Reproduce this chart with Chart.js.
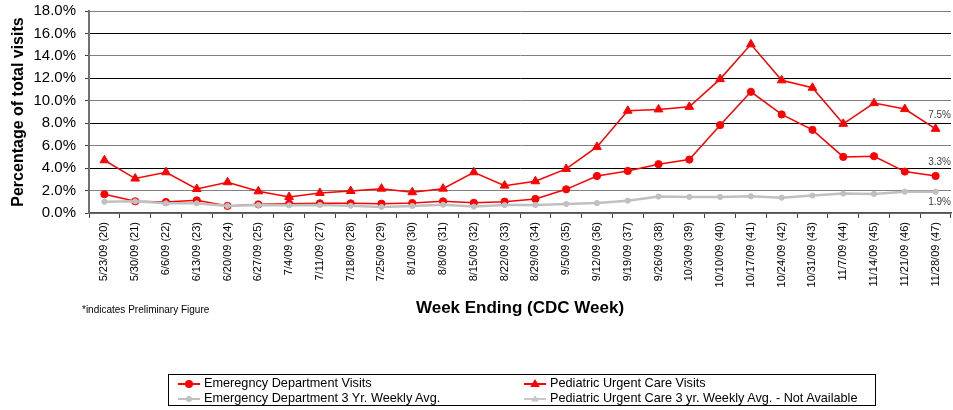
<!DOCTYPE html>
<html>
<head>
<meta charset="utf-8">
<script src="https://cdn.jsdelivr.net/npm/chart.js@4/dist/chart.umd.min.js"></script>
<style>
  html, body { margin: 0; padding: 0; background: #fff; }
  #wrap { position: relative; width: 953px; height: 410px; overflow: hidden; font-family: "Liberation Sans", Arial, sans-serif; }
  #cv { position: absolute; left: 0; top: 0; }
  #note { position: absolute; left: 82px; top: 304px; font-size: 10px; color: #000; white-space: nowrap; }
  #legend { position: absolute; left: 168px; top: 374px; width: 708px; height: 32px; border: 1px solid #000; box-sizing: border-box; font-size: 12.7px; color: #000; }
  .li { position: absolute; height: 15px; line-height: 15px; white-space: nowrap; }
  .li svg { position: absolute; left: 0; top: 2px; }
  .li span { position: absolute; left: 26px; top: 0; }
</style>
</head>
<body>
<div id="wrap">
  <canvas id="cv" width="957" height="330"></canvas>
  <div id="note">*indicates Preliminary Figure</div>
  <div id="legend"></div>
</div>
<script>
// ---- data ----
const weekLabels = ['5/23/09 (20)','5/30/09 (21)','6/6/09 (22)','6/13/09 (23)','6/20/09 (24)','6/27/09 (25)','7/4/09 (26)','7/11/09 (27)','7/18/09 (28)','7/25/09 (29)','8/1/09 (30)','8/8/09 (31)','8/15/09 (32)','8/22/09 (33)','8/29/09 (34)','9/5/09 (35)','9/12/09 (36)','9/19/09 (37)','9/26/09 (38)','10/3/09 (39)','10/10/09 (40)','10/17/09 (41)','10/24/09 (42)','10/31/09 (43)','11/7/09 (44)','11/14/09 (45)','11/21/09 (46)','11/28/09 (47)'];
const edVisits = [1.67,1.04,0.98,1.13,0.63,0.77,0.83,0.86,0.86,0.83,0.89,1.04,0.91,1.01,1.25,2.11,3.30,3.75,4.35,4.76,7.83,10.80,8.78,7.41,5.00,5.06,3.69,3.3];
const pedVisits = [4.70,3.07,3.63,2.14,2.74,1.93,1.43,1.79,1.96,2.17,1.85,2.17,3.63,2.44,2.83,3.93,5.89,9.11,9.23,9.46,11.93,15.03,11.82,11.16,7.95,9.79,9.26,7.5];
const edAvg = [1.01,1.04,0.86,0.86,0.63,0.71,0.68,0.71,0.65,0.54,0.63,0.74,0.57,0.71,0.71,0.80,0.89,1.10,1.46,1.43,1.43,1.49,1.37,1.55,1.73,1.70,1.90,1.9];
const pedAvg = [null,null,null,null,null,null,null,null,null,null,null,null,null,null,null,null,null,null,null,null,null,null,null,null,null,null,null,null];
const seriesNames = ['Emeregncy Department Visits','Pediatric Urgent Care Visits','Emergency Department 3 Yr. Weekly Avg.','Pediatric Urgent Care 3 yr. Weekly Avg. - Not Available'];
const yTicks = [0,2,4,6,8,10,12,14,16,18];

const RED = '#FF0000', GRAY = '#C0C0C0', LGRAY = '#C8C8C8';
const FONT = '"Liberation Sans", Arial, sans-serif';

const lastLabels = {
  id: 'lastLabels',
  afterDatasetsDraw(chart) {
    const ctx = chart.ctx;
    ctx.save();
    ctx.font = '10px ' + FONT;
    ctx.fillStyle = '#404040';
    ctx.textAlign = 'right';
    ctx.textBaseline = 'middle';
    const spec = [[1, -14], [0, -14], [2, 11]];
    spec.forEach(([di, dy]) => {
      const meta = chart.getDatasetMeta(di);
      const data = chart.data.datasets[di].data;
      const i = data.length - 1;
      const pt = meta.data[i];
      if (!pt || data[i] == null) return;
      ctx.fillText(data[i].toFixed(1) + '%', 951, pt.y + dy);
    });
    ctx.restore();
  }
};

new Chart(document.getElementById('cv'), {
  type: 'line',
  data: {
    labels: weekLabels,
    datasets: [
      { label: seriesNames[0], data: edVisits, borderColor: RED, backgroundColor: RED, borderWidth: 1.5,
        pointStyle: 'circle', pointRadius: 3.6, pointBorderWidth: 1, pointBackgroundColor: RED, pointBorderColor: RED, order: 1 },
      { label: seriesNames[1], data: pedVisits, borderColor: RED, backgroundColor: RED, borderWidth: 1.5,
        pointStyle: 'triangle', pointRadius: 5, pointBorderWidth: 1, pointBackgroundColor: RED, pointBorderColor: RED, order: 2 },
      { label: seriesNames[2], data: edAvg, borderColor: GRAY, backgroundColor: GRAY, borderWidth: 2.5,
        pointStyle: 'circle', pointRadius: 2.6, pointBorderWidth: 1, pointBackgroundColor: GRAY, pointBorderColor: GRAY, order: 0 },
      { label: seriesNames[3], data: pedAvg, borderColor: LGRAY, backgroundColor: LGRAY, borderWidth: 2,
        pointStyle: 'triangle', pointRadius: 3, order: 0 }
    ]
  },
  options: {
    responsive: false,
    animation: false,
    layout: { padding: { top: 11, left: 0, right: 0, bottom: 0 } },
    plugins: { legend: { display: false }, tooltip: { enabled: false } },
    elements: { line: { tension: 0 } },
    scales: {
      x: {
        offset: true,
        grid: { display: true, drawOnChartArea: false, drawTicks: true, tickLength: 5, offset: true, tickColor: '#404040' },
        border: { display: true, color: '#505050', width: 1.5 },
        ticks: { autoSkip: false, minRotation: 90, maxRotation: 90, padding: 4, color: '#000', font: { family: FONT, size: 11 } },
        title: { display: true, text: 'Week Ending (CDC Week)', color: '#000', font: { family: FONT, size: 17, weight: 'bold' }, padding: { top: 0, bottom: 11 } },
        afterFit(s) { s.height = 117; s.paddingLeft = 0; s.paddingRight = 0; }
      },
      y: {
        min: 0, max: 18,
        afterBuildTicks(s) { s.ticks = yTicks.map(v => ({ value: v })); },
        grid: {
          drawTicks: true, tickLength: 4, tickColor: '#404040', lineWidth: 1,
          color: c => (c.tick && c.tick.value % 4 === 0 && c.tick.value !== 0) ? '#000000' : '#808080'
        },
        border: { display: true, color: '#707070', width: 2 },
        ticks: { padding: 9, color: '#000', font: { family: FONT, size: 15 }, callback: v => Number(v).toFixed(1) + '%' },
        title: { display: true, text: 'Percentage of total visits', color: '#000', font: { family: FONT, size: 16, weight: 'bold' }, padding: { top: 9, bottom: 0 } },
        afterFit(s) { s.width = 89; s.paddingTop = 0; s.paddingBottom = 0; }
      }
    }
  },
  plugins: [lastLabels]
});

// ---- HTML legend ----
function marker(color, shape, r) {
  let m = '';
  if (shape === 'circle') m = `<circle cx="11" cy="6" r="${r}" fill="${color}"/>`;
  else m = `<polygon points="11,${6 - r} ${11 + r * 0.95},${6 + r * 0.6} ${11 - r * 0.95},${6 + r * 0.6}" fill="${color}"/>`;
  return `<svg width="22" height="12"><line x1="0" y1="6" x2="22" y2="6" stroke="${color}" stroke-width="2"/>${m}</svg>`;
}
const legendItems = [
  { name: seriesNames[0], color: RED, shape: 'circle', r: 4, left: 9, top: 1 },
  { name: seriesNames[1], color: RED, shape: 'triangle', r: 5, left: 355, top: 1 },
  { name: seriesNames[2], color: GRAY, shape: 'circle', r: 3, left: 9, top: 16 },
  { name: seriesNames[3], color: LGRAY, shape: 'triangle', r: 4, left: 355, top: 16 }
];
const lg = document.getElementById('legend');
legendItems.forEach(it => {
  const d = document.createElement('div');
  d.className = 'li';
  d.style.left = it.left + 'px';
  d.style.top = it.top + 'px';
  d.innerHTML = marker(it.color, it.shape, it.r) + `<span>${it.name}</span>`;
  lg.appendChild(d);
});
</script>
</body>
</html>
